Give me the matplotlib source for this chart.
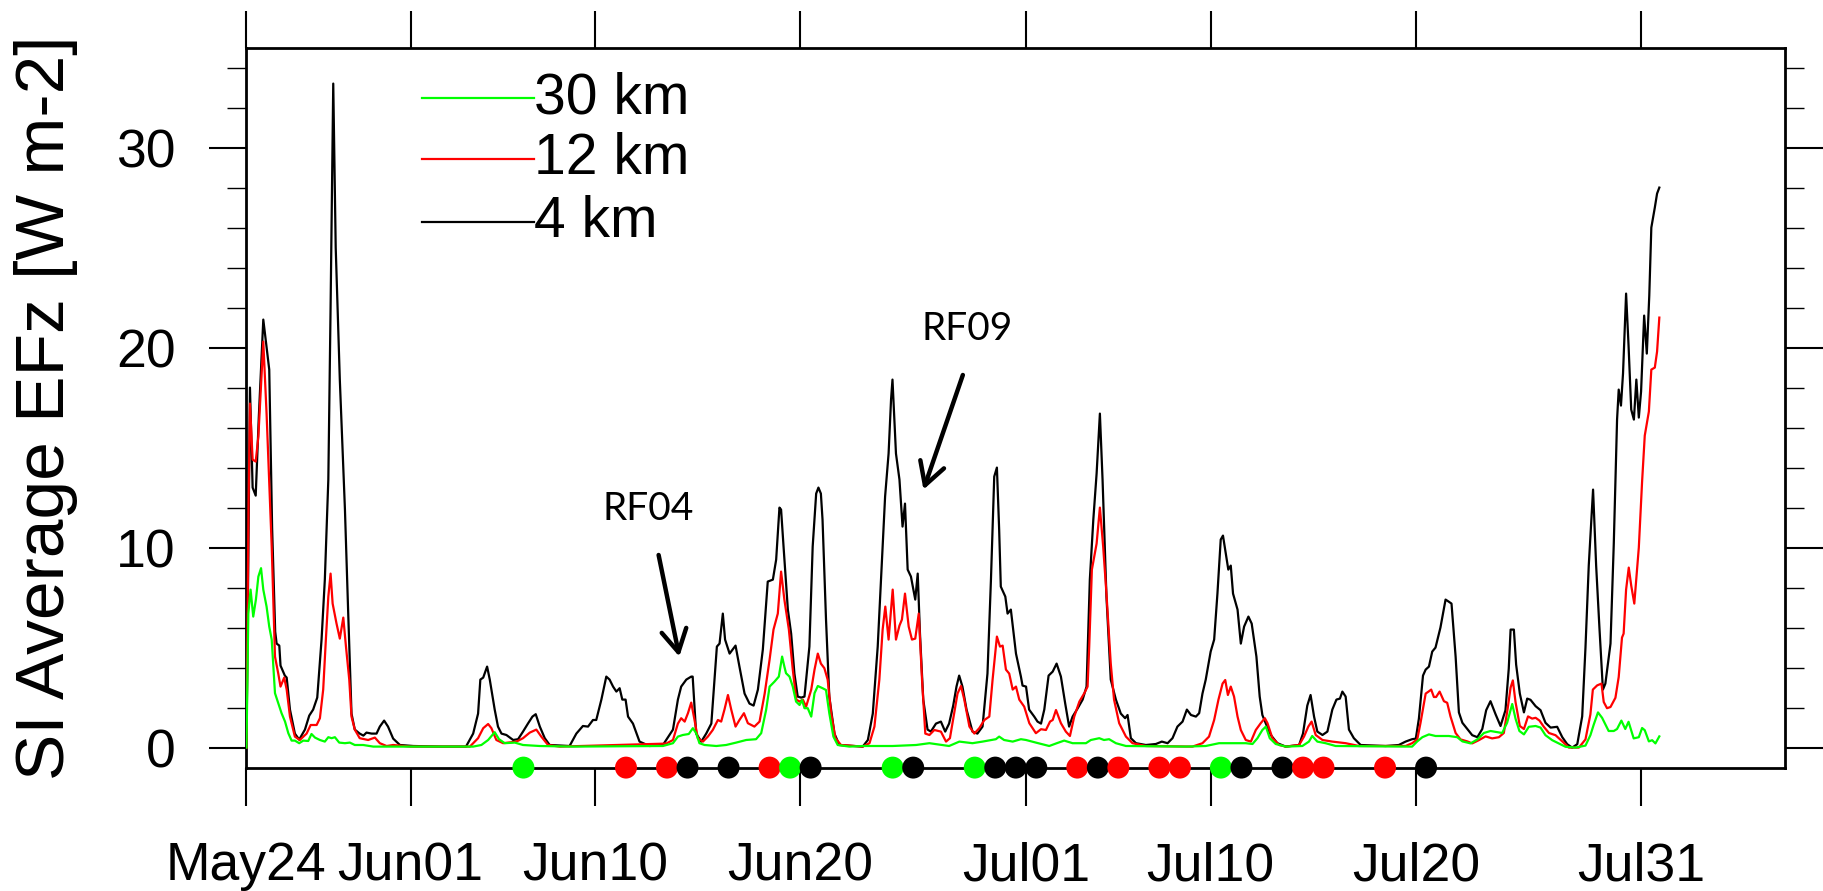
import numpy as np
import matplotlib
matplotlib.use("Agg")
import matplotlib.pyplot as plt

# time axis: days after May 24 00Z
tick_days = [0, 8, 17, 27, 38, 47, 57, 68]
tick_labels = ['May24', 'Jun01', 'Jun10', 'Jun20', 'Jul01', 'Jul10', 'Jul20', 'Jul31']

# 4 km run
t_4km = [0.0, 0.17, 0.30, 0.45, 0.60, 0.82, 1.11, 1.25, 1.40, 1.47, 1.60, 1.66, 1.87, 1.96,
         2.12, 2.36, 2.57, 2.85, 3.06, 3.25, 3.45, 3.66, 3.82, 3.99, 4.10, 4.23, 4.35, 4.55,
         4.80, 4.96, 5.12, 5.28, 5.52, 5.70, 5.85, 6.10, 6.34, 6.50, 6.71, 6.90, 7.15, 7.48,
         8.13, 9.5, 10.7, 11.05, 11.29, 11.40, 11.54, 11.73, 11.86, 12.10, 12.26, 12.43,
         12.67, 13.00, 13.24, 13.48, 13.72, 13.94, 14.10, 14.30, 14.54, 14.78, 15.75, 16.08,
         16.40, 16.65, 16.89, 17.05, 17.30, 17.54, 17.70, 17.87, 18.03, 18.19, 18.32, 18.48,
         18.60, 18.84, 19.16, 19.65, 20.30, 20.79, 21.03, 21.19, 21.44, 21.68, 21.75, 21.92,
         22.17, 22.41, 22.66, 22.93, 23.06, 23.22, 23.33, 23.55, 23.84, 24.03, 24.28, 24.52,
         24.72, 24.93, 25.17, 25.41, 25.66, 25.82, 25.98, 26.06, 26.18, 26.39, 26.55, 26.71,
         26.87, 27.04, 27.20, 27.44, 27.60, 27.77, 27.88, 28.00, 28.08, 28.25, 28.41, 28.66,
         28.90, 30.04, 30.29, 30.53, 30.77, 31.01, 31.13, 31.30, 31.42, 31.49, 31.66, 31.83,
         31.98, 32.10, 32.23, 32.39, 32.60, 32.72, 32.83, 32.99, 33.20, 33.36, 33.61, 33.85,
         34.06, 34.25, 34.45, 34.61, 34.74, 34.90, 35.10, 35.39, 35.63, 35.88, 36.12, 36.29,
         36.45, 36.58, 36.69, 36.77, 36.99, 37.10, 37.26, 37.51, 37.75, 37.83, 38.00, 38.15,
         38.40, 38.56, 38.73, 38.89, 39.10, 39.30, 39.49, 39.70, 39.91, 40.10, 40.27, 40.51,
         40.76, 40.95, 41.11, 41.28, 41.44, 41.60, 41.73, 41.92, 42.13, 42.38, 42.62, 42.83,
         42.95, 43.11, 43.36, 43.84, 44.33, 44.62, 44.90, 45.14, 45.38, 45.63, 45.84, 46.04,
         46.28, 46.44, 46.60, 46.76, 47.00, 47.17, 47.33, 47.49, 47.60, 47.74, 47.86, 47.98,
         48.09, 48.31, 48.47, 48.63, 48.84, 49.00, 49.23, 49.39, 49.52, 49.69, 49.93, 50.25,
         50.66, 51.31, 51.50, 51.71, 51.87, 52.04, 52.20, 52.45, 52.69, 52.93, 53.13, 53.30,
         53.42, 53.58, 53.74, 53.98, 54.31, 55.53, 56.17, 56.50, 56.82, 57.00, 57.15, 57.35,
         57.48, 57.64, 57.80, 57.96, 58.20, 58.45, 58.60, 58.74, 58.94, 59.10, 59.27, 59.51,
         59.75, 60.00, 60.24, 60.43, 60.64, 60.89, 61.13, 61.37, 61.53, 61.62, 61.78, 61.89,
         62.07, 62.27, 62.43, 62.59, 62.84, 63.08, 63.32, 63.57, 63.89, 64.14, 64.38, 64.62,
         64.87, 65.11, 65.27, 65.43, 65.64, 65.79, 65.95, 66.12, 66.24, 66.49, 66.65, 66.81,
         66.89, 67.00, 67.10, 67.25, 67.37, 67.50, 67.63, 67.75, 67.87, 67.98, 68.13, 68.26,
         68.38, 68.48, 68.65, 68.76, 68.87]
ef_4km = [0.0, 18.0, 13.0, 12.6, 16.5, 21.4, 18.9, 11.0, 5.8, 5.2, 5.1, 4.1, 3.6, 3.5,
          1.9, 0.7, 0.4, 0.9, 1.6, 1.9, 2.5, 5.4, 8.4, 13.4, 22.0, 33.2, 25.0, 18.4,
          11.9, 6.7, 1.7, 0.9, 0.7, 0.6, 0.75, 0.7, 0.7, 1.05, 1.35, 1.05, 0.45, 0.13,
          0.08, 0.05, 0.05, 0.7, 1.7, 3.4, 3.5, 4.05, 3.4, 1.9, 1.05, 0.7,
          0.63, 0.38, 0.42, 0.8, 1.2, 1.55, 1.67, 1.05, 0.47, 0.13, 0.08, 0.7,
          1.08, 1.05, 1.38, 1.38, 2.4, 3.55, 3.4, 3.05, 2.8, 2.97, 2.4, 2.4,
          1.55, 1.2, 0.3, 0.08, 0.13, 0.9, 2.4, 3.05, 3.4, 3.55, 3.55, 0.7,
          0.3, 0.7, 1.2, 5.05, 5.2, 6.7, 5.4, 4.7, 5.1, 4.05, 2.7, 2.2,
          2.1, 2.9, 4.9, 8.3, 8.4, 9.4, 12.0, 11.9, 10.05, 6.9, 5.7, 3.7,
          2.55, 2.5, 2.55, 5.05, 10.05, 12.7, 13.0, 12.7, 11.4, 6.4, 2.55, 0.7,
          0.13, 0.05, 0.38, 1.7, 5.05, 10.05, 12.55, 14.7, 17.4, 18.4, 14.7, 13.4,
          11.05, 12.2, 8.9, 8.55, 7.4, 8.7, 5.7, 2.4, 0.9, 0.8, 1.2, 1.3,
          0.8, 1.2, 2.1, 3.05, 3.6, 3.05, 1.9, 0.8, 0.7, 1.05, 3.7, 8.4,
          13.55, 14.0, 10.9, 8.05, 7.55, 6.7, 6.9, 4.7, 3.55, 3.1, 3.05, 1.9,
          1.55, 1.3, 1.2, 1.9, 3.6, 3.8, 4.2, 3.55, 2.2, 1.05, 1.55, 1.95,
          2.4, 3.05, 8.4, 11.4, 13.7, 16.7, 13.4, 7.55, 3.4, 2.4, 1.7, 1.47,
          1.63, 0.47, 0.22, 0.13, 0.18, 0.3, 0.22, 0.47, 1.05, 1.3, 1.9, 1.63,
          1.55, 1.72, 2.7, 3.4, 4.8, 5.4, 7.7, 10.4, 10.6, 9.7, 8.9, 9.1,
          7.7, 6.9, 5.2, 6.05, 6.55, 6.2, 4.55, 2.55, 1.63, 1.2, 0.63, 0.22,
          0.05, 0.13, 0.7, 2.1, 2.63, 1.55, 0.8, 0.63, 0.8, 1.9, 2.4, 2.45,
          2.8, 2.55, 0.9, 0.47, 0.13, 0.08, 0.13, 0.3, 0.42, 0.45, 1.45, 3.6,
          3.9, 4.05, 4.8, 5.0, 6.0, 7.4, 7.3, 7.2, 4.55, 1.76, 1.24, 0.93,
          0.62, 0.52, 0.93, 1.87, 2.32, 1.66, 1.08, 1.87, 3.94, 5.9, 5.9, 4.15,
          2.7, 1.76, 2.45, 2.39, 2.07, 1.87, 1.24, 1.0, 1.04, 0.52, 0.17, 0.0,
          0.17, 1.56, 5.0, 9.1, 12.9, 9.1, 6.0, 2.9, 3.2, 5.2, 10.2, 16.4,
          17.9, 17.1, 18.7, 22.7, 20.1, 16.9, 16.4, 18.4, 16.5, 17.8, 21.6, 19.7,
          22.6, 26.0, 27.0, 27.7, 28.0]

# 12 km run
t_12km = [0.0, 0.10, 0.17, 0.30, 0.45, 0.58, 0.82, 0.98, 1.23, 1.39, 1.55, 1.66, 1.84, 1.96,
          2.12, 2.36, 2.60, 2.93, 3.13, 3.42, 3.58, 3.74, 3.87, 3.99, 4.10, 4.20, 4.39, 4.55,
          4.72, 4.85, 5.01, 5.12, 5.28, 5.52, 5.93, 6.26, 6.50, 6.83, 7.15, 8.0, 10.89, 11.29,
          11.54, 11.78, 11.94, 12.18, 12.51, 13.16, 13.48, 13.81, 14.13, 14.37, 14.70, 15.27,
          20.46, 20.79, 21.03, 21.19, 21.36, 21.52, 21.68, 21.84, 22.00, 22.25, 22.49, 22.73,
          22.98, 23.14, 23.30, 23.47, 23.63, 23.84, 24.03, 24.25, 24.44, 24.76, 25.01, 25.26,
          25.50, 25.69, 25.90, 26.06, 26.22, 26.44, 26.63, 26.80, 26.96, 27.12, 27.28, 27.53,
          27.69, 27.85, 28.00, 28.17, 28.33, 28.50, 28.71, 28.98, 30.04, 30.37, 30.61, 30.85,
          31.01, 31.14, 31.30, 31.50, 31.66, 31.83, 31.95, 32.10, 32.28, 32.44, 32.60, 32.77,
          32.93, 33.09, 33.29, 33.53, 33.85, 34.10, 34.29, 34.50, 34.66, 34.83, 34.99, 35.24,
          35.48, 35.72, 35.97, 36.21, 36.37, 36.58, 36.73, 36.86, 37.02, 37.18, 37.35, 37.51,
          37.67, 37.91, 38.16, 38.48, 38.73, 38.97, 39.17, 39.30, 39.46, 39.70, 39.94, 40.14,
          40.35, 40.60, 40.84, 41.00, 41.08, 41.21, 41.44, 41.60, 41.76, 41.92, 42.13, 42.29,
          42.54, 42.87, 43.19, 43.84, 46.11, 46.60, 46.92, 47.17, 47.38, 47.58, 47.71, 47.84,
          47.98, 48.14, 48.31, 48.47, 48.71, 48.96, 49.20, 49.44, 49.64, 49.77, 50.01, 50.34,
          50.66, 51.31, 51.55, 51.76, 51.92, 52.12, 52.45, 52.93, 53.58, 54.23, 56.50, 56.82,
          57.07, 57.23, 57.48, 57.62, 57.75, 57.88, 57.99, 58.16, 58.37, 58.53, 58.69, 58.94,
          59.18, 59.51, 59.75, 60.07, 60.40, 60.72, 61.05, 61.29, 61.48, 61.62, 61.73, 61.86,
          62.07, 62.27, 62.47, 62.67, 62.84, 63.03, 63.24, 63.49, 63.81, 64.14, 64.46, 64.95,
          65.27, 65.51, 65.63, 65.84, 66.05, 66.16, 66.32, 66.49, 66.73, 66.89, 67.05, 67.13,
          67.25, 67.38, 67.50, 67.65, 67.87, 68.03, 68.16, 68.36, 68.48, 68.65, 68.76, 68.87]
ef_12km = [0.0, 12.0, 17.2, 14.4, 14.3, 15.55, 20.3, 16.7, 10.05, 4.55, 3.7, 3.05, 3.5, 2.9,
           1.55, 0.55, 0.38, 0.7, 1.13, 1.13, 1.47, 2.9, 5.4, 7.55, 8.7, 7.2, 6.2, 5.45,
           6.5, 5.05, 3.4, 1.55, 0.9, 0.47, 0.38, 0.5, 0.22, 0.08, 0.13, 0.05, 0.05, 0.47,
           0.97, 1.18, 0.97, 0.38, 0.22, 0.3, 0.47, 0.75, 0.9, 0.55, 0.13, 0.05,
           0.2, 0.38, 1.2, 1.47, 1.3, 1.72, 2.25, 1.38, 0.47, 0.3, 0.55, 0.88,
           1.38, 1.3, 1.9, 2.63, 1.9, 1.05, 1.38, 1.72, 1.22, 1.05, 1.3, 2.7,
           4.4, 5.9, 6.7, 8.8, 7.4, 5.9, 3.9, 2.4, 2.3, 2.4, 2.05, 2.9,
           3.9, 4.7, 4.2, 3.97, 3.4, 1.72, 0.47, 0.13, 0.05, 0.22, 1.05, 3.4,
           5.9, 7.05, 5.4, 7.9, 5.4, 6.1, 6.4, 7.7, 6.05, 5.4, 5.45, 6.7,
           3.4, 0.7, 0.63, 0.88, 0.8, 0.3, 0.47, 1.72, 2.7, 3.08, 2.4, 1.05,
           0.7, 0.97, 1.38, 1.55, 3.4, 5.55, 5.05, 5.1, 3.9, 3.7, 2.9, 3.05,
           2.4, 2.05, 1.22, 0.72, 0.92, 0.88, 1.3, 1.38, 1.88, 1.22, 0.8, 0.58,
           1.55, 2.3, 2.72, 3.05, 5.05, 8.9, 10.2, 12.0, 10.05, 7.7, 4.2, 2.4,
           1.22, 0.55, 0.22, 0.08, 0.05, 0.22, 0.55, 1.38, 2.4, 3.2, 3.38, 2.63,
           3.05, 2.55, 1.55, 0.88, 0.38, 0.3, 0.88, 1.22, 1.47, 1.22, 0.47, 0.13,
           0.05, 0.13, 0.55, 1.05, 1.3, 0.63, 0.38, 0.3, 0.22, 0.08, 0.08, 0.22,
           0.41, 1.24, 2.7, 2.8, 2.9, 2.53, 2.53, 2.8, 2.32, 2.24, 1.56, 0.73,
           0.41, 0.31, 0.21, 0.37, 0.56, 0.46, 0.52, 0.73, 1.97, 3.0, 3.36, 2.28,
           1.08, 0.93, 1.56, 1.45, 1.49, 1.35, 1.04, 0.73, 0.62, 0.31, 0.0, 0.0,
           0.41, 1.66, 2.9, 3.11, 3.2, 2.28, 1.97, 2.03, 2.49, 3.53, 5.5, 5.7,
           7.9, 9.0, 8.1, 7.2, 10.0, 13.3, 15.6, 16.8, 18.9, 19.0, 19.8, 21.5]

# 30 km run
t_30km = [0.0, 0.09, 0.20, 0.33, 0.46, 0.58, 0.71, 0.82, 0.98, 1.11, 1.23, 1.39, 1.55, 1.71,
          1.88, 2.04, 2.20, 2.36, 2.57, 2.77, 3.01, 3.17, 3.34, 3.58, 3.82, 3.99, 4.15, 4.31,
          4.52, 4.80, 5.04, 5.28, 5.69, 6.18, 11.05, 11.45, 11.78, 12.10, 12.31, 12.59, 13.08,
          13.48, 14.29, 15.92, 20.30, 20.79, 21.03, 21.27, 21.56, 21.76, 21.92, 22.08, 22.33,
          22.90, 23.38, 23.87, 24.36, 24.84, 25.09, 25.33, 25.50, 25.74, 25.95, 26.11, 26.22,
          26.30, 26.47, 26.63, 26.79, 26.96, 27.08, 27.20, 27.36, 27.53, 27.69, 27.85, 28.08,
          28.25, 28.41, 28.61, 28.82, 29.39, 30.04, 31.50, 32.64, 33.29, 34.25, 34.75, 35.39,
          35.88, 36.53, 36.69, 36.93, 37.35, 37.75, 38.00, 38.48, 39.13, 39.50, 39.86, 40.27,
          40.92, 41.16, 41.57, 41.80, 42.05, 42.38, 42.87, 45.79, 46.76, 47.41, 48.06, 48.71,
          49.04, 49.28, 49.52, 49.69, 49.88, 50.17, 50.66, 51.47, 51.79, 51.95, 52.20, 52.60,
          53.09, 56.82, 57.07, 57.32, 57.64, 57.96, 58.61, 59.02, 59.27, 59.67, 60.00, 60.32,
          60.64, 61.21, 61.45, 61.70, 61.86, 62.05, 62.27, 62.51, 62.84, 63.08, 63.32, 63.65,
          63.97, 64.30, 64.78, 65.27, 65.51, 65.67, 65.88, 66.08, 66.40, 66.65, 66.81, 67.02,
          67.21, 67.37, 67.62, 67.87, 68.03, 68.16, 68.36, 68.52, 68.68, 68.87]
ef_30km = [0.0, 6.7, 7.9, 6.55, 7.4, 8.55, 8.97, 7.9, 7.05, 6.05, 5.4, 2.72, 2.22, 1.72,
           1.3, 0.72, 0.35, 0.35, 0.22, 0.35, 0.33, 0.68, 0.5, 0.38, 0.3, 0.52, 0.47, 0.52,
           0.25, 0.22, 0.25, 0.13, 0.13, 0.05, 0.05, 0.13, 0.38, 0.77, 0.42, 0.22, 0.25,
           0.13, 0.08, 0.05, 0.08, 0.22, 0.55, 0.63, 0.68, 0.97, 0.72, 0.22, 0.13,
           0.08, 0.13, 0.25, 0.38, 0.42, 0.72, 1.88, 3.05, 3.3, 3.55, 4.55, 4.05,
           3.72, 3.55, 3.05, 2.3, 2.13, 2.38, 1.97, 1.97, 1.55, 2.72, 3.08, 2.97,
           2.88, 1.72, 0.55, 0.13, 0.05, 0.08, 0.08, 0.13, 0.22, 0.08, 0.3, 0.22,
           0.3, 0.42, 0.55, 0.38, 0.3, 0.42, 0.38, 0.25, 0.08, 0.22, 0.35, 0.22,
           0.22, 0.38, 0.47, 0.38, 0.42, 0.22, 0.08, 0.05, 0.08, 0.22, 0.22, 0.22,
           0.18, 0.47, 0.88, 1.05, 0.47, 0.18, 0.05, 0.08, 0.3, 0.58, 0.3, 0.22,
           0.08, 0.05, 0.31, 0.52, 0.66, 0.58, 0.58, 0.52, 0.31, 0.21, 0.41, 0.73,
           0.83, 0.73, 1.24, 2.18, 1.45, 0.83, 0.66, 1.04, 1.08, 1.0, 0.62, 0.37,
           0.21, 0.04, 0.0, 0.1, 0.62, 1.14, 1.76, 1.49, 0.83, 0.83, 0.93, 1.35,
           0.93, 1.29, 0.46, 0.52, 0.98, 0.87, 0.31, 0.37, 0.21, 0.56]

# research flight days (which run they are marked against)
flight_days = [13.5, 18.5, 20.5, 21.5, 23.5, 25.5, 26.5, 27.5, 31.5, 32.5, 35.5, 36.5, 37.5,
               38.5, 40.5, 41.5, 42.5, 44.5, 45.5, 47.5, 48.5, 50.5, 51.5, 52.5, 55.5, 57.5]
flight_run = ['30km', '12km', '12km', '4km', '4km', '12km', '30km', '4km', '30km', '4km',
              '30km', '4km', '4km', '4km', '12km', '4km', '12km', '12km', '12km', '30km',
              '4km', '4km', '12km', '12km', '12km', '4km']

run_colors = {'30km': '#00ff00', '12km': '#ff0000', '4km': 'black'}

plt.rcParams['font.family'] = ['Liberation Sans', 'DejaVu Sans']

fig = plt.figure(figsize=(18.23, 8.91), dpi=100)
ax = fig.add_axes([0.1352, 0.1385, 0.8440, 0.8081])

# lines (4 km underneath, 30 km on top)
ax.plot(t_4km, ef_4km, color=run_colors['4km'], lw=1.6, zorder=2)
ax.plot(t_12km, ef_12km, color=run_colors['12km'], lw=1.6, zorder=3)
ax.plot(t_30km, ef_30km, color=run_colors['30km'], lw=1.6, zorder=4)

# flight markers on the bottom axis
ax.scatter(flight_days, [-1] * len(flight_days),
           c=[run_colors[r] for r in flight_run], s=250, zorder=6, clip_on=False,
           linewidths=0)

ax.set_xlim(0, 75)
ax.set_ylim(-1, 35)
ax.set_xticks(tick_days)
ax.set_xticklabels(tick_labels)
ax.set_yticks([0, 10, 20, 30])
ax.yaxis.set_minor_locator(matplotlib.ticker.MultipleLocator(2))

for s in ax.spines.values():
    s.set_linewidth(2.0)
ax.tick_params(which='both', direction='out', top=True, right=True,
               labeltop=False, labelright=False)
ax.tick_params(which='major', length=27, width=1.5, labelsize=38.5)
ax.tick_params(axis='x', which='major', pad=26)
ax.tick_params(axis='y', which='major', pad=24)
ax.tick_params(which='minor', length=13.5, width=1.0)

fig.text(0.0252, 0.5426, 'SI Average EFz [W m-2]', rotation=90,
         ha='center', va='center', fontsize=50)

# legend drawn by hand, NCL style
leg_names = ['30 km', '12 km', '4 km']
leg_keys = ['30km', '12km', '4km']
leg_y = [0.9296, 0.8449, 0.7582]
for name, key, yy in zip(leg_names, leg_keys, leg_y):
    ax.plot([0.1139, 0.1869], [yy, yy], color=run_colors[key], lw=1.6,
            transform=ax.transAxes, zorder=5)
    ax.text(0.1869, yy, name, transform=ax.transAxes, ha='left', va='center',
            fontsize=41)

# flight annotations
arrow = dict(arrowstyle='->,head_length=0.8,head_width=0.45', lw=3.2, color='black',
             shrinkA=0, shrinkB=0, mutation_scale=20)
ax.annotate('', xy=(21.1, 4.55), xytext=(20.09, 9.63), arrowprops=arrow)
ax.text(19.6, 11.93, 'RF04', ha='center', va='center', fontsize=28, family=['Lato', 'DejaVu Sans'])
ax.annotate('', xy=(33.0, 12.9), xytext=(34.92, 18.63), arrowprops=arrow)
ax.text(35.12, 20.93, 'RF09', ha='center', va='center', fontsize=28, family=['Lato', 'DejaVu Sans'])

fig.savefig('out.png', dpi=100)
